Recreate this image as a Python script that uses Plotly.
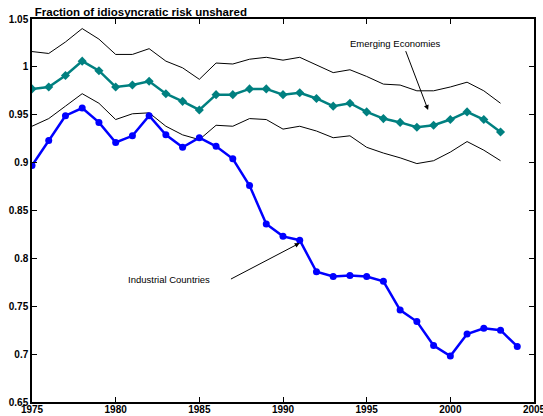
import plotly.graph_objects as go

years_ind = list(range(1975, 2005))
industrial = [0.897, 0.923, 0.949, 0.957, 0.942, 0.921, 0.928, 0.949, 0.929, 0.916,
              0.926, 0.917, 0.904, 0.876, 0.836, 0.823, 0.819, 0.786, 0.781, 0.782,
              0.781, 0.776, 0.746, 0.734, 0.709, 0.698, 0.721, 0.727, 0.725, 0.708]

years_em = list(range(1975, 2004))
emerging = [0.977, 0.979, 0.991, 1.006, 0.996, 0.979, 0.981, 0.985, 0.972, 0.964,
            0.955, 0.971, 0.971, 0.977, 0.977, 0.971, 0.973, 0.967, 0.959, 0.962,
            0.953, 0.946, 0.942, 0.937, 0.939, 0.945, 0.953, 0.945, 0.932]
emerging_upper = [1.016, 1.014, 1.026, 1.040, 1.029, 1.013, 1.013, 1.019, 1.006, 0.999,
                  0.987, 1.004, 1.003, 1.008, 1.010, 1.007, 1.010, 1.002, 0.994, 0.997,
                  0.990, 0.982, 0.981, 0.975, 0.975, 0.979, 0.984, 0.975, 0.962]
emerging_lower = [0.938, 0.946, 0.959, 0.972, 0.962, 0.945, 0.951, 0.952, 0.938, 0.929,
                  0.924, 0.939, 0.938, 0.946, 0.945, 0.935, 0.938, 0.933, 0.926, 0.928,
                  0.916, 0.910, 0.905, 0.899, 0.902, 0.911, 0.922, 0.913, 0.902]

x_ticks = [1975, 1980, 1985, 1990, 1995, 2000, 2005]
y_ticks = [0.65, 0.7, 0.75, 0.8, 0.85, 0.9, 0.95, 1.0, 1.05]
y_tick_labels = ["0.65", "0.7", "0.75", "0.8", "0.85", "0.9", "0.95", "1", "1.05"]

title_text = "Fraction of idiosyncratic risk unshared"
label_em = "Emerging Economies"
label_ind = "Industrial Countries"

FONT = "Liberation Sans, Arial, sans-serif"

fig = go.Figure()
for band in (emerging_upper, emerging_lower):
    fig.add_trace(go.Scatter(x=years_em, y=band, mode="lines",
                             line=dict(color="black", width=1), showlegend=False,
                             hoverinfo="skip"))
fig.add_trace(go.Scatter(x=years_em, y=emerging, mode="lines+markers",
                         line=dict(color="#008080", width=2.5),
                         marker=dict(symbol="diamond", size=7, color="#008080"),
                         showlegend=False))
fig.add_trace(go.Scatter(x=years_ind, y=industrial, mode="lines+markers",
                         line=dict(color="#0000FF", width=2.5),
                         marker=dict(symbol="circle", size=7, color="#0000FF"),
                         showlegend=False))

# Annotation arrows (data coordinates)
fig.add_annotation(x=1998.67, y=0.955, ax=1997.3, ay=1.018, xref="x", yref="y",
                   axref="x", ayref="y", text="", showarrow=True,
                   arrowhead=2, arrowsize=1, arrowwidth=1, arrowcolor="black")
fig.add_annotation(x=1991.0, y=0.816, ax=1986.8, ay=0.7776, xref="x", yref="y",
                   axref="x", ayref="y", text="", showarrow=True,
                   arrowhead=2, arrowsize=1, arrowwidth=1, arrowcolor="black")
fig.add_annotation(x=1996.74, y=1.024, xref="x", yref="y", text=label_em,
                   showarrow=False, font=dict(family=FONT, size=9.5, color="black"))
fig.add_annotation(x=1983.17, y=0.7776, xref="x", yref="y", text=label_ind,
                   showarrow=False, font=dict(family=FONT, size=9.5, color="black"))

axis_common = dict(showline=True, linecolor="black", linewidth=1.5, mirror="allticks",
                   ticks="inside", ticklen=5, tickwidth=1, tickcolor="black",
                   showgrid=False, zeroline=False, automargin=False,
                   tickfont=dict(family=FONT, size=10, color="black", weight="bold"))

fig.update_xaxes(range=[1975, 2005], tickvals=x_ticks, ticklabelstandoff=-3,
                 ticklabeloverflow="allow",
                 ticktext=[str(v) for v in x_ticks], **axis_common)
fig.update_yaxes(range=[0.65, 1.05], tickvals=y_ticks, ticktext=y_tick_labels,
                 **axis_common)

fig.update_layout(width=543, height=416, plot_bgcolor="white", paper_bgcolor="white",
                  margin=dict(l=32, r=9, t=19, b=14), font=dict(family=FONT),
                  title=dict(text="<b>" + title_text + "</b>", xref="container",
                             yref="container", x=0.064, xanchor="left",
                             y=1 - 11.5 / 416, yanchor="middle",
                             font=dict(family=FONT, size=11.5, color="black")))

fig.write_html("out.html", config={"displayModeBar": False},
               post_script="document.body.style.margin='0';document.body.style.overflow='hidden';")
